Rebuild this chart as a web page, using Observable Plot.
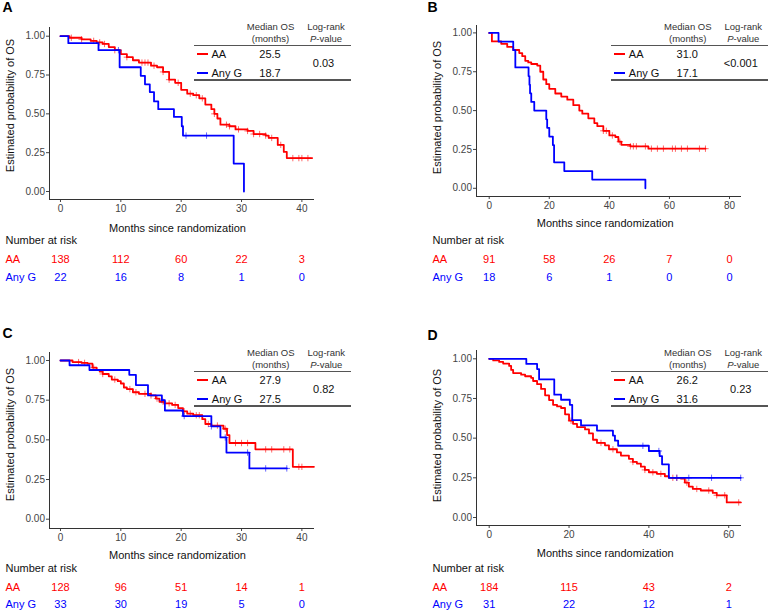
<!DOCTYPE html>
<html><head><meta charset="utf-8">
<script src="https://cdn.jsdelivr.net/npm/d3@7"></script>
<script src="https://cdn.jsdelivr.net/npm/@observablehq/plot@0.6"></script>
<style>
html,body{margin:0;padding:0;background:#fff;}
#root{position:relative;width:768px;height:611px;overflow:hidden;font-family:"Liberation Sans",Arial,sans-serif;}
.panel{position:absolute;}
.lg{position:absolute;}
.lg div{position:absolute;white-space:nowrap;}
</style></head>
<body><div id="root"></div>
<script>
const RED = "#ff0000", BLUE = "#0000ff";
const groups = ["AA", "Any G"];

// ---- Panel A ----
const A_aaT = [0, 1.5, 3.5, 5, 6, 7, 8, 9, 10, 11, 12, 13, 15, 16, 17, 18, 19, 20, 21, 22, 23, 24, 25, 25.5, 26, 26.5, 28, 29, 31, 32, 34, 34.5, 36, 37, 37.5, 41.7];
const A_aaS = [1.00, 0.99, 0.98, 0.97, 0.96, 0.95, 0.93, 0.91, 0.885, 0.865, 0.845, 0.83, 0.81, 0.80, 0.77, 0.72, 0.70, 0.655, 0.63, 0.62, 0.60, 0.56, 0.53, 0.50, 0.47, 0.43, 0.42, 0.40, 0.39, 0.37, 0.36, 0.345, 0.30, 0.255, 0.215, 0.215];
const A_gT = [0, 1.3, 6.3, 9.8, 13.3, 14, 14.8, 15.5, 16.2, 18.8, 20.1, 20.3, 28.7, 30.4];
const A_gS = [1.00, 0.955, 0.91, 0.80, 0.745, 0.69, 0.64, 0.58, 0.53, 0.48, 0.42, 0.36, 0.18, 0.00];
const A_aaCens = [1.8, 3.5, 5.5, 6.5, 7.3, 9, 11, 13.5, 14, 14.5, 15.5, 17, 18, 19.5, 21.5, 22.5, 23.5, 25.5, 27.5, 28, 29.5, 31, 32, 33, 34, 35, 36.5, 38.5, 39.5, 40, 41];
const A_gCens = [9.6, 20.8, 24.2];
const A_riskT = [0, 10, 20, 30, 40];
const A_riskAA = [138, 112, 60, 22, 3];
const A_riskG = [22, 16, 8, 1, 0];
const A_median = ["25.5", "18.7"];
const A_p = "0.03";

// ---- Panel B ----
const B_aaT = [0, 0.9, 4, 6, 8, 10, 11, 12, 13, 14, 16, 17, 18, 19, 20, 22, 24, 26, 28, 30, 31, 33, 35, 36, 38, 40, 42, 43, 44, 47, 53, 72];
const B_aaS = [1.00, 0.945, 0.93, 0.91, 0.89, 0.87, 0.85, 0.82, 0.81, 0.80, 0.79, 0.75, 0.70, 0.67, 0.64, 0.61, 0.59, 0.57, 0.535, 0.50, 0.48, 0.45, 0.42, 0.40, 0.37, 0.34, 0.33, 0.30, 0.28, 0.27, 0.255, 0.255];
const B_gT = [0, 3.1, 8, 8.7, 13.1, 13.4, 13.6, 14, 15, 19, 19.3, 20, 21.2, 21.6, 25, 34.3, 52];
const B_gS = [1.00, 0.944, 0.889, 0.778, 0.722, 0.667, 0.611, 0.556, 0.50, 0.444, 0.389, 0.333, 0.278, 0.167, 0.111, 0.056, 0.00];
const B_aaCens = [38, 39, 41, 43.5, 47, 48, 49, 52, 54, 56, 58, 61, 62, 64, 66, 70, 72];
const B_gCens = [];
const B_riskT = [0, 20, 40, 60, 80];
const B_riskAA = [91, 58, 26, 7, 0];
const B_riskG = [18, 6, 1, 0, 0];
const B_median = ["31.0", "17.1"];
const B_p = "<0.001";

// ---- Panel C ----
const C_aaT = [0, 2, 3.5, 4.5, 5.3, 6, 6.5, 7, 8, 8.5, 9.5, 10, 10.5, 11, 12, 13, 15, 15.8, 16.4, 17.2, 18.5, 19.5, 20.3, 21, 22, 23.5, 24, 25, 27, 27.6, 28, 32.3, 38.5, 42];
const C_aaS = [1.00, 0.99, 0.985, 0.98, 0.955, 0.94, 0.93, 0.915, 0.90, 0.88, 0.87, 0.855, 0.83, 0.82, 0.80, 0.79, 0.78, 0.76, 0.74, 0.73, 0.72, 0.70, 0.68, 0.665, 0.655, 0.63, 0.60, 0.59, 0.57, 0.53, 0.48, 0.44, 0.33, 0.33];
const C_gT = [0, 1.5, 4.8, 11.4, 12.5, 14.5, 16.8, 17.3, 20.3, 25, 26.5, 27.5, 31.3, 37.5];
const C_gS = [1.00, 0.97, 0.94, 0.91, 0.845, 0.78, 0.75, 0.685, 0.65, 0.585, 0.515, 0.42, 0.32, 0.32];
const C_aaCens = [3, 4, 5.5, 7, 9, 11.5, 12.5, 14, 15, 16, 17, 18, 19, 20.5, 21.5, 22.5, 23, 24.5, 26, 27.3, 29, 30, 31, 34, 35, 37, 38, 39.5, 40];
const C_gCens = [16.8, 20.5, 25, 27.3, 31, 34, 37.5];
const C_riskT = [0, 10, 20, 30, 40];
const C_riskAA = [128, 96, 51, 14, 1];
const C_riskG = [33, 30, 19, 5, 0];
const C_median = ["27.9", "27.5"];
const C_p = "0.82";

// ---- Panel D ----
const D_aaT = [0, 1, 2.5, 3.5, 5, 5.5, 6, 8, 9, 10.5, 11, 12, 13, 14, 15, 16, 17, 18, 19, 20, 21, 22, 24, 25, 26, 27, 29, 30, 32, 33, 35, 36, 37, 38, 39, 40, 42, 44, 45, 48, 49, 50, 51, 53, 56, 57, 59.5, 63];
const D_aaS = [1.00, 0.99, 0.98, 0.97, 0.955, 0.93, 0.91, 0.90, 0.89, 0.88, 0.86, 0.84, 0.81, 0.77, 0.74, 0.71, 0.70, 0.69, 0.65, 0.61, 0.59, 0.57, 0.555, 0.53, 0.49, 0.47, 0.455, 0.43, 0.41, 0.39, 0.37, 0.35, 0.34, 0.32, 0.30, 0.285, 0.275, 0.26, 0.25, 0.245, 0.22, 0.195, 0.18, 0.17, 0.155, 0.14, 0.095, 0.095];
const D_gT = [0, 9.3, 12, 12.5, 16.3, 18, 20.2, 20.8, 23, 27, 31, 31.5, 32.3, 40, 42.7, 43.3, 45, 63];
const D_gS = [1.00, 0.968, 0.935, 0.87, 0.774, 0.742, 0.71, 0.613, 0.58, 0.548, 0.516, 0.484, 0.452, 0.419, 0.387, 0.335, 0.25, 0.25];
const D_aaCens = [20.5, 28, 31, 36, 39, 41, 43, 46, 47, 49.5, 52, 55, 57, 59, 62.5];
const D_gCens = [38.5, 42.5, 47, 50, 55.7, 63];
const D_riskT = [0, 20, 40, 60];
const D_riskAA = [184, 115, 43, 2];
const D_riskG = [31, 22, 12, 1];
const D_median = ["26.2", "31.6"];
const D_p = "0.23";

const yTicks = [0, 0.25, 0.5, 0.75, 1];

function stepAt(ts, ss, c) { let v = ss[0]; for (let i = 0; i < ts.length; i++) if (ts[i] <= c) v = ss[i]; return v; }

const panels = [
  {letter:"A", left:0, top:0, w:384, h:300, ml:49, mr:70, mt:27, mb:101, xd:[-1.82, 42.09], yd:[-0.0515, 1.056],
   aaT:A_aaT, aaS:A_aaS, gT:A_gT, gS:A_gS, aaC:A_aaCens, gC:A_gCens, riskT:A_riskT, riskAA:A_riskAA, riskG:A_riskG,
   med:A_median, p:A_p, letterPos:[2,7.5], ylab:[10,105], xlab:[177,228], nar:[5,240], rows:[259.3,276.7], lg:[194,45.7]},
  {letter:"B", left:384, top:0, w:384, h:300, ml:92, mr:27, mt:25, mb:104, xd:[-4.23, 84.0], yd:[-0.0528, 1.0476],
   aaT:B_aaT, aaS:B_aaS, gT:B_gT, gS:B_gS, aaC:B_aaCens, gC:B_gCens, riskT:B_riskT, riskAA:B_riskAA, riskG:B_riskG,
   med:B_median, p:B_p, letterPos:[43,7.5], ylab:[53,107], xlab:[220.7,223.3], nar:[48,240], rows:[259.3,276.7], lg:[611.3,45.7]},
  {letter:"C", left:0, top:300, w:384, h:311, ml:49, mr:70, mt:52, mb:83, xd:[-1.82, 42.09], yd:[-0.0586, 1.0504],
   aaT:C_aaT, aaS:C_aaS, gT:C_gT, gS:C_gS, aaC:C_aaCens, gC:C_gCens, riskT:C_riskT, riskAA:C_riskAA, riskG:C_riskG,
   med:C_median, p:C_p, letterPos:[2,33.5], ylab:[10,134], xlab:[177,255], nar:[5,268.3], rows:[287.3,304.3], lg:[194.3,371.7]},
  {letter:"D", left:384, top:300, w:384, h:311, ml:92, mr:27, mt:50, mb:86, xd:[-3.18, 63.2], yd:[-0.0504, 1.0523],
   aaT:D_aaT, aaS:D_aaS, gT:D_gT, gS:D_gS, aaC:D_aaCens, gC:D_gCens, riskT:D_riskT, riskAA:D_riskAA, riskG:D_riskG,
   med:D_median, p:D_p, letterPos:[43,35], ylab:[53,135], xlab:[220.7,252.7], nar:[48,267.7], rows:[287.3,304.3], lg:[611.3,371.7]}
];

const root = document.getElementById("root");

for (const c of panels) {
  const fb = c.h - c.mb;
  const at = (txt, px, py, o = {}) => Plot.text([txt], {frameAnchor: "top-left", dx: px - c.ml, dy: py - c.mt, lineAnchor: "middle", ...o});
  const aa = c.aaT.map((t, i) => ({t, s: c.aaS[i]}));
  const g = c.gT.map((t, i) => ({t, s: c.gS[i]}));
  const aaC = c.aaC.map(t => ({t, s: stepAt(c.aaT, c.aaS, t)}));
  const gC = c.gC.map(t => ({t, s: stepAt(c.gT, c.gS, t)}));
  const rAA = c.riskT.map((t, i) => ({t, n: String(c.riskAA[i])}));
  const rG = c.riskT.map((t, i) => ({t, n: String(c.riskG[i])}));

  const svg = Plot.plot({
    width: c.w, height: c.h,
    marginLeft: c.ml, marginRight: c.mr, marginTop: c.mt, marginBottom: c.mb,
    style: {fontFamily: "'Liberation Sans', Arial, sans-serif", fontSize: "10px", color: "#444", background: "transparent", overflow: "visible"},
    x: {domain: c.xd, ticks: c.riskT, tickSize: 3, tickPadding: 2.5, label: null},
    y: {domain: c.yd, ticks: yTicks, tickFormat: d3.format(".2f"), tickSize: 3, tickPadding: 1.5, label: null},
    marks: [
      Plot.ruleX([c.xd[0]], {stroke: "#333", strokeWidth: 1}),
      Plot.ruleY([c.yd[0]], {stroke: "#333", strokeWidth: 1}),
      Plot.line(aa, {x: "t", y: "s", curve: "step-after", stroke: RED, strokeWidth: 1.8}),
      Plot.dot(aaC, {x: "t", y: "s", symbol: "plus", r: 2.2, stroke: RED, fill: "none", strokeWidth: 1, strokeOpacity: 0.6}),
      Plot.line(g, {x: "t", y: "s", curve: "step-after", stroke: BLUE, strokeWidth: 1.8}),
      Plot.dot(gC, {x: "t", y: "s", symbol: "plus", r: 2.2, stroke: BLUE, fill: "none", strokeWidth: 1, strokeOpacity: 0.6}),
      Plot.text(rAA, {x: "t", text: "n", frameAnchor: "bottom", dy: c.rows[0] - fb, lineAnchor: "middle", fill: RED, fontSize: 11}),
      Plot.text(rG, {x: "t", text: "n", frameAnchor: "bottom", dy: c.rows[1] - fb, lineAnchor: "middle", fill: BLUE, fontSize: 11}),
      at(c.letter, c.letterPos[0], c.letterPos[1], {textAnchor: "start", fontSize: 14, fontWeight: "bold", fill: "#000"}),
      at("Estimated probability of OS", c.ylab[0], c.ylab[1], {rotate: -90, textAnchor: "middle", fontSize: 11, fill: "#111"}),
      at("Months since randomization", c.xlab[0], c.xlab[1], {textAnchor: "middle", fontSize: 11, fill: "#111"}),
      at("Number at risk", c.nar[0], c.nar[1], {textAnchor: "start", fontSize: 11, fill: "#111"}),
      at(groups[0], c.nar[0], c.rows[0], {textAnchor: "start", fontSize: 11, fill: RED}),
      at(groups[1], c.nar[0], c.rows[1], {textAnchor: "start", fontSize: 11, fill: BLUE})
    ]
  });
  const wrap = document.createElement("div");
  wrap.className = "panel";
  wrap.style.left = c.left + "px";
  wrap.style.top = c.top + "px";
  wrap.appendChild(svg);
  root.appendChild(wrap);

  // legend table (HTML)
  const lg = document.createElement("div");
  lg.className = "lg";
  lg.style.left = c.lg[0] + "px";
  lg.style.top = c.lg[1] + "px";
  const add = (html, cx, cy, size, color, align = "center") => {
    const d = document.createElement("div");
    d.innerHTML = html;
    d.style.fontSize = size + "px";
    d.style.lineHeight = "14px";
    d.style.height = "14px";
    d.style.top = (cy - 7) + "px";
    d.style.color = color;
    if (align === "center") { d.style.left = (cx - 40) + "px"; d.style.width = "80px"; d.style.textAlign = "center"; }
    else { d.style.left = cx + "px"; }
    lg.appendChild(d);
  };
  const rule = (y) => {
    const d = document.createElement("div");
    d.style.left = "0px"; d.style.top = (y - 0.75) + "px";
    d.style.width = "157px"; d.style.height = "1.5px"; d.style.background = "#555";
    lg.appendChild(d);
  };
  const sw = (y, col) => {
    const d = document.createElement("div");
    d.style.left = "3px"; d.style.top = (y - 1) + "px";
    d.style.width = "11px"; d.style.height = "2px"; d.style.background = col;
    lg.appendChild(d);
  };
  add("Median OS", 76.5, -18.5, 9.5, "#333");
  add("(months)", 76.5, -6.5, 9.5, "#333");
  add("Log-rank", 132, -18.5, 9.5, "#333");
  add("<i>P</i>-value", 132, -6.5, 9.5, "#333");
  rule(0);
  sw(8.8, RED);
  sw(27, BLUE);
  add(groups[0], 17.5, 8.8, 11, "#111", "left");
  add(groups[1], 17.5, 27, 11, "#111", "left");
  add(c.med[0], 76, 8.8, 11, "#111");
  add(c.med[1], 76, 27, 11, "#111");
  add(c.p.replace("<", "&lt;"), 129.5, 17, 11, "#111");
  rule(34.5);
  root.appendChild(lg);
}
</script>
</body></html>
